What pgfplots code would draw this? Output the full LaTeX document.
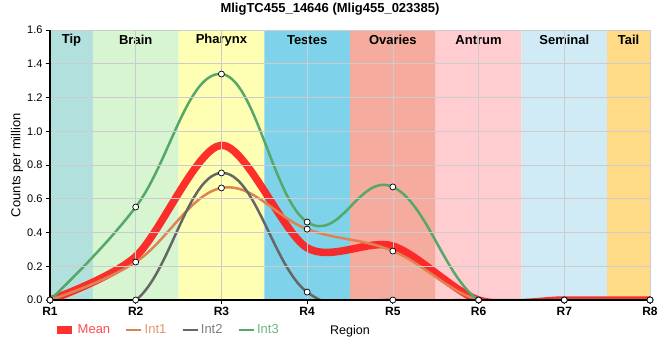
\documentclass[border=0pt]{standalone}
\usepackage{pgfplots}
\pgfplotsset{compat=1.18}
\usepackage{fontspec}
\setmainfont{Liberation Sans}
\definecolor{tipc}{HTML}{B2E0DC}
\definecolor{brainc}{HTML}{D6F5D0}
\definecolor{pharc}{HTML}{FFFFB4}
\definecolor{testc}{HTML}{7ED3EA}
\definecolor{ovac}{HTML}{F5AB9E}
\definecolor{antc}{HTML}{FFCCD0}
\definecolor{semc}{HTML}{D0EBF5}
\definecolor{tailc}{HTML}{FFDA87}
\definecolor{meanc}{HTML}{FF1E1E}
\definecolor{int1c}{HTML}{DD8452}
\definecolor{int2c}{HTML}{666666}
\definecolor{int3c}{HTML}{55A868}
\pgfplotsset{legend image code/.code={\draw[#1] (0pt,0pt) -- (15pt,0pt);}}
\begin{document}
\begin{tikzpicture}
\useasboundingbox (-50pt,-60pt) rectangle (610pt,300pt);
\begin{axis}[
  axis on top,
  at={(0,0)}, anchor=south west,
  scale only axis, width=600pt, height=270pt,
  xmin=1, xmax=8, ymin=0, ymax=1.6,
  xtick={1,2,3,4,5,6,7,8},
  xticklabels={R1,R2,R3,R4,R5,R6,R7,R8},
  ytick={0,0.2,0.4,0.6,0.8,1.0,1.2,1.4,1.6},
  /pgf/number format/assume math mode=true,
  yticklabel style={/pgf/number format/fixed, /pgf/number format/fixed zerofill, /pgf/number format/precision=1, font=\fontsize{11}{12}\selectfont},
  xticklabel style={font=\bfseries\fontsize{12}{14}\selectfont},
  axis x line*=bottom, axis y line*=left,
  axis line style={-, line width=2pt, black},
  tick style={black, line width=0.8pt},
  major tick length=4pt, tick align=outside,
  grid=major, grid style={black!20, line width=0.6pt},
  title={MligTC455\_14646 (Mlig455\_023385)},
  title style={font=\bfseries\fontsize{13}{15}\selectfont, at={(0.4667,1)}, anchor=center, yshift=15pt},
  ylabel={Counts per million},
  ylabel style={font=\fontsize{13}{15}\selectfont, at={(axis description cs:-0.055,0.5)}, anchor=center},
  xlabel={Region},
  xlabel style={font=\fontsize{12.5}{14}\selectfont, at={(axis description cs:0.5,-0.115)}, anchor=center},
  legend columns=4,
  legend style={draw=none, fill=none, font=\fontsize{13}{15}\selectfont, at={(axis description cs:0.0,-0.111)}, anchor=west, /tikz/every even column/.append style={column sep=13pt}},
  mark size=3pt,
]
% background bands
\addplot[fill=tipc, draw=none, forget plot] coordinates {(1,0)(1,1.6)(1.5,1.6)(1.5,0)} \closedcycle;
\addplot[fill=brainc, draw=none, forget plot] coordinates {(1.5,0)(1.5,1.6)(2.5,1.6)(2.5,0)} \closedcycle;
\addplot[fill=pharc, draw=none, forget plot] coordinates {(2.5,0)(2.5,1.6)(3.5,1.6)(3.5,0)} \closedcycle;
\addplot[fill=testc, draw=none, forget plot] coordinates {(3.5,0)(3.5,1.6)(4.5,1.6)(4.5,0)} \closedcycle;
\addplot[fill=ovac, draw=none, forget plot] coordinates {(4.5,0)(4.5,1.6)(5.5,1.6)(5.5,0)} \closedcycle;
\addplot[fill=antc, draw=none, forget plot] coordinates {(5.5,0)(5.5,1.6)(6.5,1.6)(6.5,0)} \closedcycle;
\addplot[fill=semc, draw=none, forget plot] coordinates {(6.5,0)(6.5,1.6)(7.5,1.6)(7.5,0)} \closedcycle;
\addplot[fill=tailc, draw=none, forget plot] coordinates {(7.5,0)(7.5,1.6)(8,1.6)(8,0)} \closedcycle;
% series
\addplot[meanc, line width=7.5pt, smooth, tension=0.5, mark=none, opacity=0.92] coordinates {(1,0)(2,0.258)(3,0.917)(4,0.309)(5,0.32)(6,0)(7,0)(8,0)};
\addlegendentry{\textcolor{meanc!80}{Mean}}
\addplot[int1c, line width=2.5pt, smooth, tension=0.65, mark=*, mark options={fill=white, draw=black, line width=0.7pt, solid}] coordinates {(1,0)(2,0.225)(3,0.664)(4,0.42)(5,0.29)(6,0)(7,0)(8,0)};
\addlegendentry{\textcolor{int1c!85}{Int1}}
\addplot[int2c, line width=2.5pt, smooth, tension=0.7, mark=*, mark options={fill=white, draw=black, line width=0.7pt, solid}] coordinates {(1,0)(2,0)(3,0.753)(4,0.047)(5,0)(6,0)(7,0)(8,0)};
\addlegendentry{\textcolor{int2c!85}{Int2}}
\addplot[int3c, line width=2.5pt, smooth, tension=0.7, mark=*, mark options={fill=white, draw=black, line width=0.7pt, solid}] coordinates {(1,0)(2,0.551)(3,1.339)(4,0.462)(5,0.67)(6,0)(7,0)(8,0)};
\addlegendentry{\textcolor{int3c!85}{Int3}}
% band labels
\node[font=\bfseries\fontsize{13}{15}\selectfont] at (axis cs:1.25,1.54) {Tip};
\node[font=\bfseries\fontsize{13}{15}\selectfont] at (axis cs:2,1.54) {Brain};
\node[font=\bfseries\fontsize{13}{15}\selectfont] at (axis cs:3,1.54) {Pharynx};
\node[font=\bfseries\fontsize{13}{15}\selectfont] at (axis cs:4,1.54) {Testes};
\node[font=\bfseries\fontsize{13}{15}\selectfont] at (axis cs:5,1.54) {Ovaries};
\node[font=\bfseries\fontsize{13}{15}\selectfont] at (axis cs:6,1.54) {Antrum};
\node[font=\bfseries\fontsize{13}{15}\selectfont] at (axis cs:7,1.54) {Seminal};
\node[font=\bfseries\fontsize{13}{15}\selectfont] at (axis cs:7.75,1.54) {Tail};
\end{axis}
\end{tikzpicture}
\end{document}
